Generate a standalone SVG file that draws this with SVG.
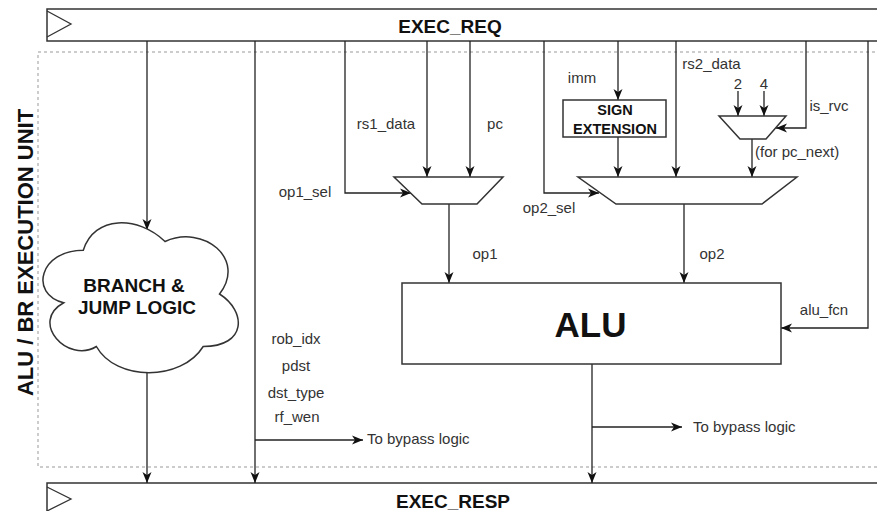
<svg xmlns="http://www.w3.org/2000/svg" width="877" height="511" viewBox="0 0 877 511">
<defs>
<marker id="arr" markerUnits="userSpaceOnUse" markerWidth="11" markerHeight="10" viewBox="0 0 11 10" refX="11" refY="5" orient="auto">
<path d="M0,0.5 L11,5 L0,9.5 L3,5 Z" fill="#111"/>
</marker>
<style>
.ln{fill:none;stroke:#222;stroke-width:1.3}
.ar{marker-end:url(#arr)}
.bx{fill:#fff;stroke:#333;stroke-width:1.5}
.t{font-family:"Liberation Sans",Arial,sans-serif;font-size:15px;fill:#333}
.tb{font-family:"Liberation Sans",Arial,sans-serif;font-weight:bold;fill:#111}
.m{text-anchor:middle}
</style>
</defs>
<rect id="frame" x="38" y="52" width="860" height="415" fill="none" stroke="#999" stroke-width="1" stroke-dasharray="3 3"/>
<text class="tb m" font-size="22" transform="translate(33,252.5) rotate(-90)">ALU / BR EXECUTION UNIT</text>
<g id="exec_req">
<rect class="bx" x="47" y="9" width="860" height="32"/>
<polyline points="47,11 71,24 47,37" fill="none" stroke="#333" stroke-width="1.3"/>
<text class="tb m" x="450" y="33" font-size="19">EXEC_REQ</text>
</g>
<g id="exec_resp">
<rect class="bx" x="47" y="483" width="860" height="40"/>
<polyline points="47,487 71,499 47,511" fill="none" stroke="#333" stroke-width="1.3"/>
<text class="tb m" x="453" y="508" font-size="19">EXEC_RESP</text>
</g>
<g id="connectors">
<path class="ln ar" d="M147,41 V230"/>
<path class="ln ar" d="M147,373 V483"/>
<path class="ln ar" d="M255,41 V483"/>
<path class="ln ar" d="M255,440 H363"/>
<path class="ln ar" d="M345,41 V193 H411"/>
<path class="ln ar" d="M427,41 V177"/>
<path class="ln ar" d="M470,41 V177"/>
<path class="ln ar" d="M449,204 V283"/>
<path class="ln ar" d="M544,41 V193 H599"/>
<path class="ln ar" d="M618,41 V100"/>
<path class="ln ar" d="M618,137 V177"/>
<path class="ln ar" d="M676,41 V177"/>
<path class="ln ar" d="M738,91 V116"/>
<path class="ln ar" d="M764,91 V116"/>
<path class="ln ar" d="M806,41 V128 H776"/>
<path class="ln ar" d="M752,139 V177"/>
<path class="ln ar" d="M868,41 V328 H781"/>
<path class="ln ar" d="M684,204 V283"/>
<path class="ln ar" d="M592,364 V483"/>
<path class="ln ar" d="M592,427 H682"/>
</g>
<g id="cloud">
<path class="bx" transform="translate(28.8,206.5) scale(218,175)" stroke-width="0.0075" d="M0.25,0.25 C0.05,0.25 0,0.5 0.16,0.55 C0,0.66 0.18,0.9 0.31,0.8 C0.4,1 0.7,1 0.8,0.8 C1,0.8 1,0.6 0.875,0.5 C1,0.3 0.8,0.1 0.625,0.2 C0.5,0.05 0.3,0.05 0.25,0.25 Z" vector-effect="non-scaling-stroke" style="stroke-width:1.5"/>
<text class="tb m" x="134" y="291.5" font-size="19">BRANCH &amp;</text>
<text class="tb m" x="137" y="314" font-size="19">JUMP LOGIC</text>
</g>
<g id="mux1">
<polygon class="bx" points="394,177 503,177 477,204 422,204"/>
</g>
<g id="mux2">
<polygon class="bx" points="578,177 797,177 762,204 616,204"/>
</g>
<g id="mux3">
<polygon class="bx" points="719,116 786,116 766,139 740,139"/>
</g>
<g id="sign_ext">
<rect class="bx" x="563" y="100" width="103" height="37"/>
<text class="tb m" x="615" y="115" font-size="14.5">SIGN</text>
<text class="tb m" x="615" y="134" font-size="14.5">EXTENSION</text>
</g>
<g id="alu">
<rect class="bx" x="402" y="283" width="379" height="81"/>
<text class="tb m" x="590.5" y="336.5" font-size="35">ALU</text>
</g>
<g id="labels">
<text class="t m" x="386" y="129">rs1_data</text>
<text class="t m" x="495" y="129">pc</text>
<text class="t m" x="305" y="196.5">op1_sel</text>
<text class="t m" x="549" y="213">op2_sel</text>
<text class="t m" x="582" y="82.5">imm</text>
<text class="t m" x="711.5" y="68.5" font-size="13">rs2_data</text>
<text class="t m" x="738" y="88.5" font-size="14">2</text>
<text class="t m" x="764" y="88.5" font-size="14">4</text>
<text class="t m" x="829" y="111">is_rvc</text>
<text class="t" x="755" y="157">(for pc_next)</text>
<text class="t m" x="485" y="259">op1</text>
<text class="t m" x="712" y="259">op2</text>
<text class="t m" x="824" y="315">alu_fcn</text>
<text class="t m" x="296" y="344">rob_idx</text>
<text class="t m" x="296" y="371">pdst</text>
<text class="t m" x="296" y="398">dst_type</text>
<text class="t m" x="297" y="421.5">rf_wen</text>
<text class="t" x="367" y="444">To bypass logic</text>
<text class="t" x="693" y="432">To bypass logic</text>
</g>
</svg>
